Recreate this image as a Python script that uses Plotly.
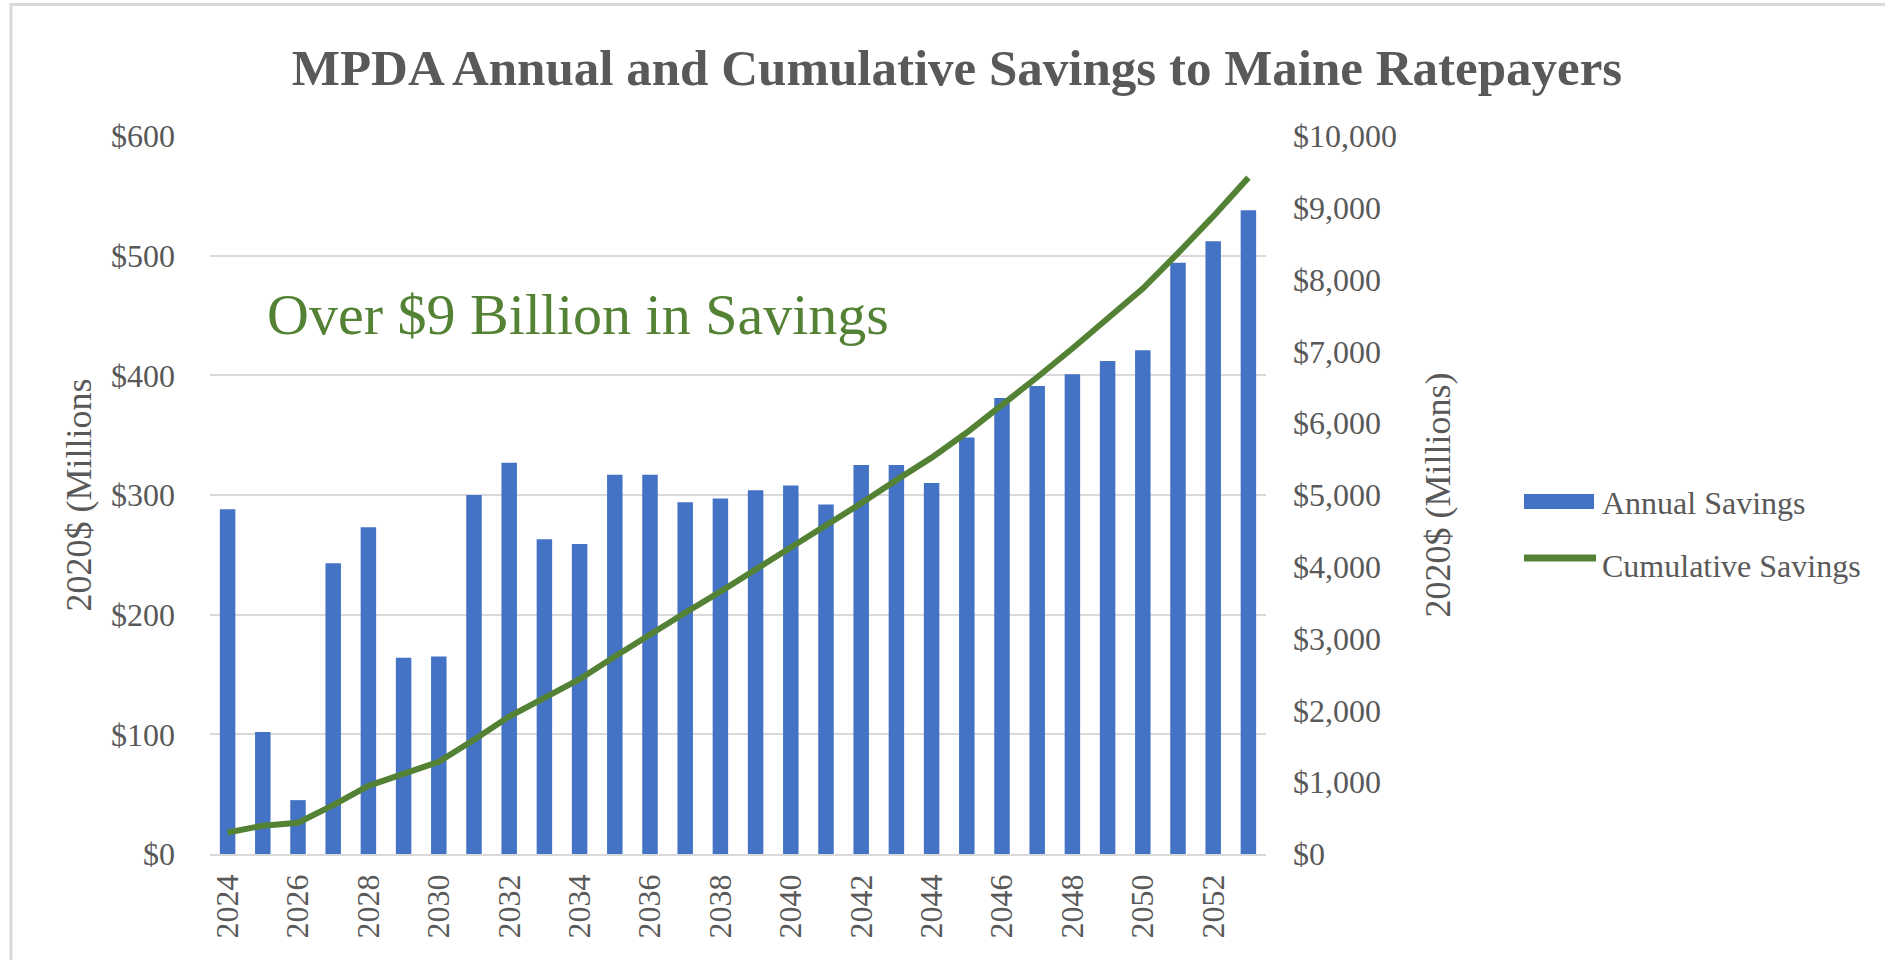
import plotly.graph_objects as go

# ---------------- data ----------------
years = [2024, 2025, 2026, 2027, 2028, 2029, 2030, 2031, 2032, 2033,
         2034, 2035, 2036, 2037, 2038, 2039, 2040, 2041, 2042, 2043,
         2044, 2045, 2046, 2047, 2048, 2049, 2050, 2051, 2052, 2053]
annual_savings = [288, 102, 45, 243, 273, 164, 165, 300, 327, 263,
                  259, 317, 317, 294, 297, 304, 308, 292, 325, 325,
                  310, 348, 381, 391, 401, 412, 421, 494, 512, 538]
cumulative_savings = [300, 395, 435, 680, 950, 1115, 1285, 1590, 1915, 2175,
                      2435, 2750, 3065, 3360, 3655, 3960, 4270, 4560, 4885, 5210,
                      5520, 5870, 6250, 6640, 7040, 7455, 7875, 8370, 8880, 9420]
x_tick_years = [2024, 2026, 2028, 2030, 2032, 2034, 2036, 2038, 2040, 2042,
                2044, 2046, 2048, 2050, 2052]
left_ticks = [0, 100, 200, 300, 400, 500, 600]
right_ticks = [0, 1000, 2000, 3000, 4000, 5000, 6000, 7000, 8000, 9000, 10000]

# ---------------- layout constants ----------------
W, H = 1885, 960
PL, PR, PT, PB = 210, 1266, 136, 854   # plot area in px
SERIF = "Liberation Serif, Times New Roman, serif"
GRAY = "#595959"
BLUE = "#4472C4"
GREEN = "#548235"
GRID = "#D9D9D9"


def px_x(px):
    return (px - PL) / (PR - PL)


def px_y(py):
    return (PB - py) / (PB - PT)


fig = go.Figure()

fig.add_trace(go.Bar(
    x=years, y=annual_savings, name="Annual Savings",
    marker=dict(color=BLUE, line=dict(width=0)),
    width=0.44, showlegend=False, yaxis="y",
))
fig.add_trace(go.Scatter(
    x=years, y=cumulative_savings, name="Cumulative Savings",
    mode="lines", line=dict(color=GREEN, width=6),
    showlegend=False, yaxis="y2",
))

shapes = [
    # outer frame lines (top and left)
    dict(type="line", xref="paper", yref="paper",
         x0=px_x(10), x1=px_x(W), y0=px_y(4.5), y1=px_y(4.5),
         line=dict(color=GRID, width=3)),
    dict(type="line", xref="paper", yref="paper",
         x0=px_x(11), x1=px_x(11), y0=px_y(3), y1=px_y(H),
         line=dict(color=GRID, width=3)),
    # legend symbols
    dict(type="rect", xref="paper", yref="paper",
         x0=px_x(1524), x1=px_x(1594), y0=px_y(494), y1=px_y(509),
         fillcolor=BLUE, line=dict(width=0)),
    dict(type="line", xref="paper", yref="paper",
         x0=px_x(1524), x1=px_x(1596), y0=px_y(558), y1=px_y(558),
         line=dict(color=GREEN, width=7)),
]

annotations = [
    dict(text="Over $9 Billion in Savings", xref="paper", yref="paper",
         x=px_x(265), y=px_y(314), xanchor="left", yanchor="middle",
         showarrow=False, font=dict(family=SERIF, size=58, color=GREEN)),
    dict(text="Annual Savings", xref="paper", yref="paper",
         x=px_x(1600), y=px_y(503), xanchor="left", yanchor="middle",
         showarrow=False, font=dict(family=SERIF, size=32, color=GRAY)),
    dict(text="Cumulative Savings", xref="paper", yref="paper",
         x=px_x(1600), y=px_y(566), xanchor="left", yanchor="middle",
         showarrow=False, font=dict(family=SERIF, size=32, color=GRAY)),
]

fig.update_layout(
    width=W, height=H,
    margin=dict(l=PL, r=W - PR, t=PT, b=H - PB, autoexpand=False),
    paper_bgcolor="white", plot_bgcolor="white",
    title=dict(text="MPDA Annual and Cumulative Savings to Maine Ratepayers",
               x=957 / W, xref="container", xanchor="center",
               y=1 - 67 / H, yref="container", yanchor="middle",
               font=dict(family=SERIF, size=51, color=GRAY, weight="bold")),
    xaxis=dict(
        range=[years[0] - 0.5, years[-1] + 0.5],
        tickmode="array", tickvals=x_tick_years,
        ticktext=[str(v) for v in x_tick_years],
        tickangle=-90, ticklabelstandoff=6,
        tickfont=dict(family=SERIF, size=32, color=GRAY),
        showgrid=False, zeroline=False,
        showline=True, linecolor=GRID, linewidth=1.5,
        ticks="", fixedrange=True,
    ),
    yaxis=dict(
        range=[0, 600], tickmode="array", tickvals=left_ticks,
        ticktext=["$" + str(v) for v in left_ticks],
        tickfont=dict(family=SERIF, size=32, color=GRAY),
        ticklabelstandoff=34,
        showgrid=True, gridcolor=GRID, gridwidth=1.5,
        zeroline=False, showline=False, ticks="",
        title=dict(text="2020$ (Millions", standoff=8,
                   font=dict(family=SERIF, size=36, color=GRAY)),
    ),
    yaxis2=dict(
        range=[0, 10000], overlaying="y", side="right",
        tickmode="array", tickvals=right_ticks,
        ticktext=["${:,}".format(v) for v in right_ticks],
        tickfont=dict(family=SERIF, size=32, color=GRAY),
        ticklabelstandoff=26,
        showgrid=False, zeroline=False, showline=False, ticks="",
        title=dict(text="2020$ (Millions)", standoff=28,
                   font=dict(family=SERIF, size=36, color=GRAY)),
    ),
    shapes=shapes,
    annotations=annotations,
    showlegend=False,
)

fig.write_html("out.html")
